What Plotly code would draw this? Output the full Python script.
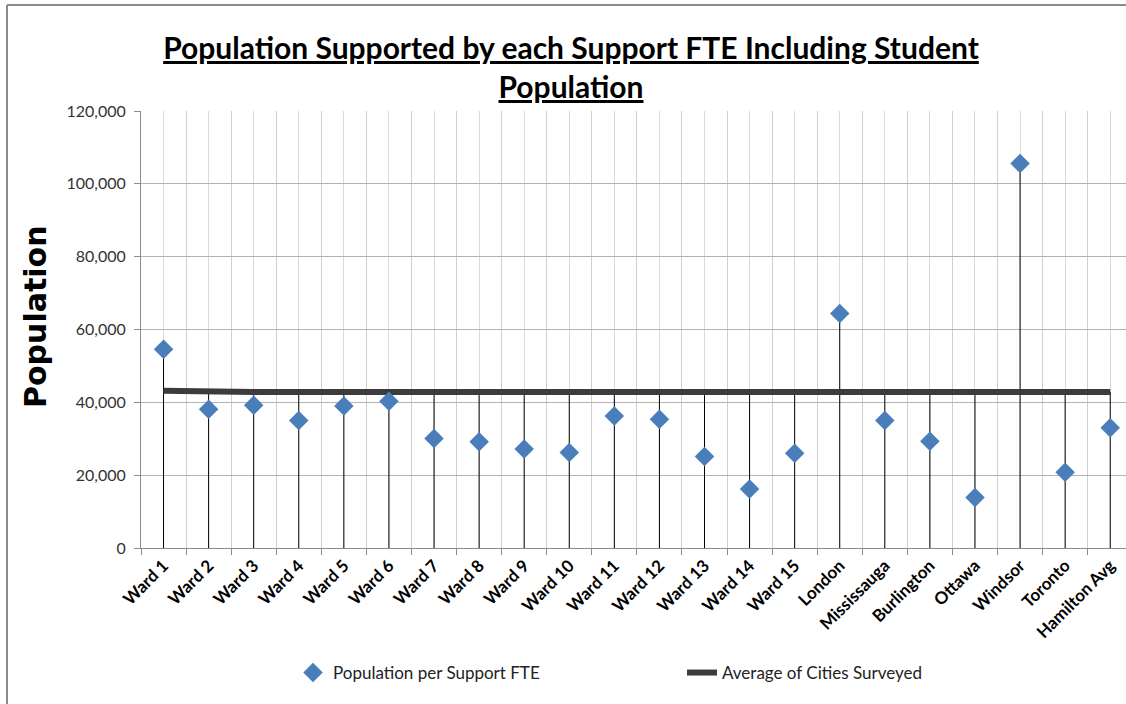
import plotly.graph_objects as go

categories = ["Ward 1", "Ward 2", "Ward 3", "Ward 4", "Ward 5", "Ward 6", "Ward 7", "Ward 8",
              "Ward 9", "Ward 10", "Ward 11", "Ward 12", "Ward 13", "Ward 14", "Ward 15",
              "London", "Mississauga", "Burlington", "Ottawa", "Windsor", "Toronto", "Hamilton Avg"]
pop_per_fte = [54600, 38100, 39200, 35000, 39000, 40300, 30100, 29200, 27200, 26200, 36250, 35350,
               25100, 16200, 26000, 64400, 35000, 29300, 13900, 105600, 20800, 33000]
avg_cities = [43200] + [42850] * 21
y_ticks = [0, 20000, 40000, 60000, 80000, 100000, 120000]

xs = list(range(len(categories)))

# drop lines from the highest series value down to the axis
drop_x, drop_y = [], []
for i, (v, a) in enumerate(zip(pop_per_fte, avg_cities)):
    drop_x += [i, i, None]
    drop_y += [0, max(v, a), None]

FONT = "Lato, Roboto, sans-serif"

fig = go.Figure()
fig.add_trace(go.Scatter(x=drop_x, y=drop_y, mode="lines", line=dict(color="black", width=1),
                         showlegend=False, hoverinfo="skip"))
fig.add_trace(go.Scatter(x=xs, y=avg_cities, mode="lines", name="Average of Cities Surveyed",
                         line=dict(color="#3c3c3c", width=6), legend="legend2"))
fig.add_trace(go.Scatter(x=xs, y=pop_per_fte, mode="markers", name="Population per Support FTE",
                         marker=dict(symbol="diamond", size=15, color="#4a7ebb",
                                     line=dict(width=0)), legend="legend"))

L, T, B = 141, 111, 548
W, H = 1126, 704
pw, ph = W - L, B - T
def px(xp):
    return (xp - L) / pw
def py(yp):
    return (B - yp) / ph

fig.update_layout(
    width=W, height=H,
    margin=dict(l=L, r=0, t=T, b=H - B, pad=0),
    paper_bgcolor="white", plot_bgcolor="white",
    title=dict(text="<u>Population Supported by each Support FTE Including Student</u><br><u>Population</u>",
               x=px(571), xanchor="center", xref="paper", y=1 - 59 / H, yanchor="middle",
               font=dict(family=FONT, size=30, color="black", weight="bold")),
    xaxis=dict(range=[-0.5, 21.35], tickmode="array", tickvals=xs, ticktext=categories,
               tickangle=-45, ticks="", showgrid=True, gridcolor="#d9d9d9", gridwidth=1,
               showline=True, linecolor="#8c8c8c", linewidth=1, zeroline=False,
               tickfont=dict(family=FONT, size=17, color="black", weight="bold"),
               minor=dict(tickmode="linear", tick0=-0.5, dtick=1, showgrid=True,
                          gridcolor="#cfcfcf", ticks="outside", ticklen=6, tickcolor="#8c8c8c")),
    yaxis=dict(range=[0, 120000], tickmode="array", tickvals=y_ticks,
               ticktext=[f"{v:,}" for v in y_ticks], ticks="outside", ticklen=6,
               ticklabelstandoff=5,
               tickcolor="#8c8c8c", showgrid=True, gridcolor="#b3b3b3", gridwidth=1,
               showline=True, linecolor="#8c8c8c", linewidth=1, zeroline=False,
               tickfont=dict(family=FONT, size=16, color="#333333")),
    legend=dict(orientation="h", x=px(293), y=py(673), xanchor="left", yanchor="middle",
                font=dict(family=FONT, size=17, color="#222222"), bgcolor="rgba(0,0,0,0)"),
    legend2=dict(orientation="h", x=px(682), y=py(673), xanchor="left", yanchor="middle",
                 font=dict(family=FONT, size=17, color="#222222"), bgcolor="rgba(0,0,0,0)"),
    annotations=[dict(text="<b>Population</b>", textangle=-90, x=px(35), y=py(317),
                      xref="paper", yref="paper", xanchor="center", yanchor="middle",
                      showarrow=False,
                      font=dict(family="DejaVu Sans", size=30, color="black"))],
    shapes=[dict(type="line", xref="paper", yref="paper", x0=px(7), x1=px(7), y0=py(704), y1=py(5),
                 line=dict(color="#8c8c8c", width=2)),
            dict(type="line", xref="paper", yref="paper", x0=px(7), x1=px(1126), y0=py(5), y1=py(5),
                 line=dict(color="#8c8c8c", width=2))],
)

fig.write_html("out.html", config={"displayModeBar": False},
               post_script="document.body.style.margin='0px';")
